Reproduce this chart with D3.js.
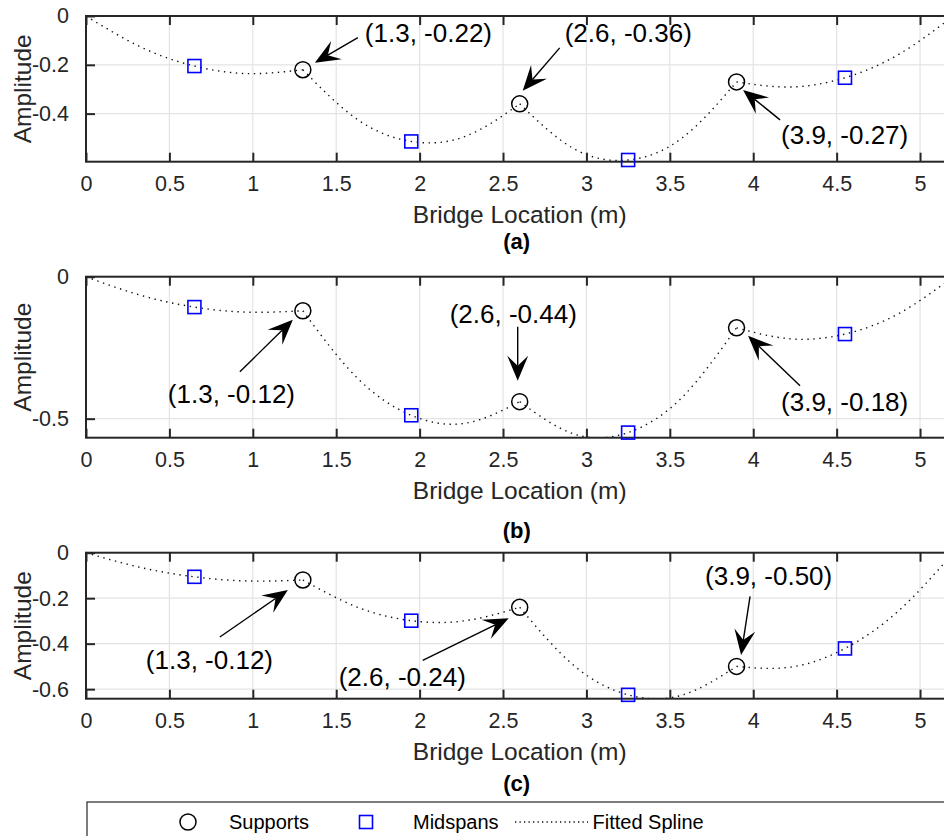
<!DOCTYPE html>
<html>
<head>
<meta charset="utf-8">
<script src="https://cdn.jsdelivr.net/npm/d3@7"></script>
<style>
  body { margin: 0; background: #fff; }
  svg { display: block; font-family: "Liberation Sans", Arial, sans-serif; }
</style>
</head>
<body>
<div id="chart"></div>
<script>
// mode shapes of the bridge, three panels sharing the same x positions

var supportX = [1.3, 2.6, 3.9]
var midspanX = [0.65, 1.95, 3.25, 4.55]
var splineX = [0, 0.325, 0.65, 0.975, 1.3, 1.625, 1.95, 2.275, 2.6, 2.925, 3.25, 3.575, 3.9, 4.225, 4.55, 4.875, 5.2]
var spanKnots = [0, 1.3, 2.6, 3.9, 5.2]
var xTicks = [0, 0.5, 1, 1.5, 2, 2.5, 3, 3.5, 4, 4.5, 5]

// panel (a)
var supportsA = [-0.22, -0.36, -0.27]
var midspansA = [-0.205, -0.514, -0.59, -0.253]
var splineA = [0, -0.126, -0.205, -0.236, -0.22, -0.423, -0.514, -0.493, -0.36, -0.544, -0.59, -0.499, -0.27, -0.291, -0.253, -0.156, 0]
var yTicksA = [-0.4, -0.2, 0]
var yLimA = [-0.597, 0]

// panel (b)
var supportsB = [-0.12, -0.44, -0.18]
var midspansB = [-0.107, -0.488, -0.549, -0.202]
var splineB = [0, -0.065, -0.107, -0.125, -0.12, -0.356, -0.488, -0.516, -0.44, -0.554, -0.549, -0.424, -0.18, -0.219, -0.202, -0.129, 0]
var yTicksB = [-0.5, 0]
var yLimB = [-0.567, 0]

// panel (c)
var supportsC = [-0.12, -0.24, -0.50]
var midspansC = [-0.106, -0.299, -0.625, -0.421]
var splineC = [0, -0.0645, -0.106, -0.1245, -0.12, -0.239, -0.299, -0.299, -0.24, -0.496, -0.625, -0.626, -0.50, -0.503, -0.421, -0.253, 0]
var yTicksC = [-0.6, -0.4, -0.2, 0]
var yLimC = [-0.642, 0]

var captions = ["(a)", "(b)", "(c)"]

var width = 944
var height = 836
var left = 86
var right = 953.4

// vertical layout of each panel (pixels)
var layout = [
    { top: 16, bottom: 161.7, xlabel: 223, caption: 241 },
    { top: 276.7, bottom: 437.7, xlabel: 499, caption: 530 },
    { top: 552.7, bottom: 698.7, xlabel: 760, caption: 783 }
]

// annotation arrows, offsets from the support marker: tip, tail, text start
var arrows = [
    [ { tip: [12, -7], tail: [55, -32], text: [62, -37] },
      { tip: [3, -13], tail: [40, -56], text: [45, -71] },
      { tip: [6.5, 8], tail: [43.5, 38], text: [44.5, 53] } ],
    [ { tip: [-10, 9], tail: [-63, 61], text: [-135, 83] },
      { tip: [-2, -21], tail: [-2, -75], text: [-70, -88] },
      { tip: [11.5, 8], tail: [63.5, 58], text: [44.5, 74] } ],
    [ { tip: [-15, 10], tail: [-83, 57], text: [-157, 80] },
      { tip: [-11, 11], tail: [-97, 53], text: [-181, 70] },
      { tip: [4.5, -11.5], tail: [13.5, -70], text: [-31.5, -90] } ]
]

var panels = [
    { supports: supportsA, midspans: midspansA, spline: splineA, yTicks: yTicksA, yLim: yLimA },
    { supports: supportsB, midspans: midspansB, spline: splineB, yTicks: yTicksB, yLim: yLimB },
    { supports: supportsC, midspans: midspansC, spline: splineC, yTicks: yTicksC, yLim: yLimC }
]

var axisColor = "#262626"
var gridColor = "#e3e3e3"

var svg = d3.select("#chart")
    .append("svg")
    .attr("width", width)
    .attr("height", height)

var x = d3.scaleLinear().domain([0, 5.2]).range([left, right])

var label = (px, py) => "(" + px.toFixed(1) + ", " + py.toFixed(2) + ")"

panels.forEach(function (p, k) {
    var L = layout[k]
    var y = d3.scaleLinear().domain(p.yLim).range([L.bottom, L.top])
    var g = svg.append("g")

    svg.append("clipPath").attr("id", "clip" + k)
        .append("rect")
        .attr("x", left).attr("y", L.top)
        .attr("width", right - left).attr("height", L.bottom - L.top)

    // grid
    g.append("g").selectAll("line").data(xTicks).join("line")
        .attr("x1", d => x(d)).attr("x2", d => x(d))
        .attr("y1", L.top).attr("y2", L.bottom)
        .attr("stroke", gridColor).attr("stroke-width", 1.2)
    g.append("g").selectAll("line").data(p.yTicks).join("line")
        .attr("x1", left).attr("x2", right)
        .attr("y1", d => y(d)).attr("y2", d => y(d))
        .attr("stroke", gridColor).attr("stroke-width", 1.2)

    // fitted spline, one smooth piece per span so the supports keep their kinks
    var pts = splineX.map((sx, i) => [sx, p.spline[i]])
    var line = d3.line().x(d => x(d[0])).y(d => y(d[1])).curve(d3.curveNatural)
    var spans = d3.range(spanKnots.length - 1).map(i =>
        pts.filter(d => d[0] >= spanKnots[i] - 1e-9 && d[0] <= spanKnots[i + 1] + 1e-9))
    g.append("g").attr("clip-path", "url(#clip" + k + ")")
        .selectAll("path").data(spans).join("path")
        .attr("d", line)
        .attr("fill", "none")
        .attr("stroke", "#111")
        .attr("stroke-width", 1.4)
        .attr("stroke-dasharray", "1.4 4.6")

    // axes box
    g.append("rect")
        .attr("x", left).attr("y", L.top)
        .attr("width", right - left).attr("height", L.bottom - L.top)
        .attr("fill", "none").attr("stroke", axisColor).attr("stroke-width", 2)

    var axB = d3.axisBottom(x).tickValues(xTicks).tickSize(-9).tickPadding(14).tickFormat(d => String(d))
    var gx = g.append("g").attr("transform", `translate(0,${L.bottom})`).call(axB)
    gx.select(".domain").remove()
    gx.selectAll(".tick line").attr("stroke", axisColor).attr("stroke-width", 2)
    gx.selectAll(".tick text").attr("fill", axisColor).attr("font-size", 21.5)
        .attr("font-family", "Liberation Sans, Arial, sans-serif")

    var axT = d3.axisTop(x).tickValues(xTicks).tickSize(-9).tickFormat("")
    var gt = g.append("g").attr("transform", `translate(0,${L.top})`).call(axT)
    gt.select(".domain").remove()
    gt.selectAll(".tick line").attr("stroke", axisColor).attr("stroke-width", 2)

    var axL = d3.axisLeft(y).tickValues(p.yTicks).tickSize(-9).tickPadding(17).tickFormat(d => d === 0 ? "0" : String(d))
    var gy = g.append("g").attr("transform", `translate(${left},0)`).call(axL)
    gy.select(".domain").remove()
    gy.selectAll(".tick line").attr("stroke", axisColor).attr("stroke-width", 2)
    gy.selectAll(".tick text").attr("fill", axisColor).attr("font-size", 21.5)
        .attr("font-family", "Liberation Sans, Arial, sans-serif")

    // labels
    g.append("text")
        .attr("x", (left + right) / 2).attr("y", L.xlabel)
        .attr("text-anchor", "middle").attr("font-size", 24.5).attr("fill", axisColor)
        .text("Bridge Location (m)")
    g.append("text")
        .attr("transform", `translate(31,${(L.top + L.bottom) / 2}) rotate(-90)`)
        .attr("text-anchor", "middle").attr("font-size", 24.5).attr("fill", axisColor)
        .text("Amplitude")
    g.append("text")
        .attr("x", (left + right) / 2 - 3).attr("y", L.caption)
        .attr("text-anchor", "middle").attr("dominant-baseline", "central")
        .attr("font-size", 22).attr("font-weight", "bold").attr("fill", "#000")
        .text(captions[k])

    // markers
    g.append("g").selectAll("rect").data(midspanX).join("rect")
        .attr("x", (d, i) => x(d) - 6.5).attr("y", (d, i) => y(p.midspans[i]) - 6.5)
        .attr("width", 13).attr("height", 13)
        .attr("fill", "none").attr("stroke", "#0000ff").attr("stroke-width", 1.6)
    g.append("g").selectAll("circle").data(supportX).join("circle")
        .attr("cx", d => x(d)).attr("cy", (d, i) => y(p.supports[i]))
        .attr("r", 8)
        .attr("fill", "none").attr("stroke", "#000").attr("stroke-width", 1.5)

    // annotations
    supportX.forEach(function (sx, i) {
        var cx = x(sx), cy = y(p.supports[i])
        var a = arrows[k][i]
        var tip = [cx + a.tip[0], cy + a.tip[1]]
        var tail = [cx + a.tail[0], cy + a.tail[1]]
        var dx = tip[0] - tail[0], dy = tip[1] - tail[1]
        var len = Math.hypot(dx, dy)
        var u = [dx / len, dy / len], n = [-u[1], u[0]]
        var hl = 25, hw = 10.5, nl = 15
        var notch = [tip[0] - nl * u[0], tip[1] - nl * u[1]]
        g.append("line")
            .attr("x1", tail[0]).attr("y1", tail[1])
            .attr("x2", notch[0]).attr("y2", notch[1])
            .attr("stroke", "#000").attr("stroke-width", 1.4)
        var head = [
            tip,
            [tip[0] - hl * u[0] + hw * n[0], tip[1] - hl * u[1] + hw * n[1]],
            notch,
            [tip[0] - hl * u[0] - hw * n[0], tip[1] - hl * u[1] - hw * n[1]]
        ]
        g.append("path").attr("d", "M" + head.join("L") + "Z").attr("fill", "#000")
        g.append("text")
            .attr("x", cx + a.text[0]).attr("y", cy + a.text[1])
            .attr("dominant-baseline", "central")
            .attr("font-size", 26).attr("fill", "#000")
            .text(label(sx, p.supports[i]))
    })
})

// legend
var lg = svg.append("g")
lg.append("rect").attr("x", 87).attr("y", 802).attr("width", 900).attr("height", 80)
    .attr("fill", "#fff").attr("stroke", axisColor).attr("stroke-width", 1.2)
lg.append("circle").attr("cx", 188).attr("cy", 822).attr("r", 8)
    .attr("fill", "none").attr("stroke", "#000").attr("stroke-width", 1.5)
lg.append("text").attr("x", 229).attr("y", 822).attr("dominant-baseline", "central")
    .attr("font-size", 20).text("Supports")
lg.append("rect").attr("x", 359.5).attr("y", 815.5).attr("width", 13).attr("height", 13)
    .attr("fill", "none").attr("stroke", "#0000ff").attr("stroke-width", 1.6)
lg.append("text").attr("x", 413).attr("y", 822).attr("dominant-baseline", "central")
    .attr("font-size", 20).text("Midspans")
lg.append("line").attr("x1", 515).attr("x2", 588).attr("y1", 822).attr("y2", 822)
    .attr("stroke", "#111").attr("stroke-width", 1.3).attr("stroke-dasharray", "1.3 3.2")
lg.append("text").attr("x", 592.5).attr("y", 822).attr("dominant-baseline", "central")
    .attr("font-size", 20).text("Fitted Spline")
</script>
</body>
</html>
